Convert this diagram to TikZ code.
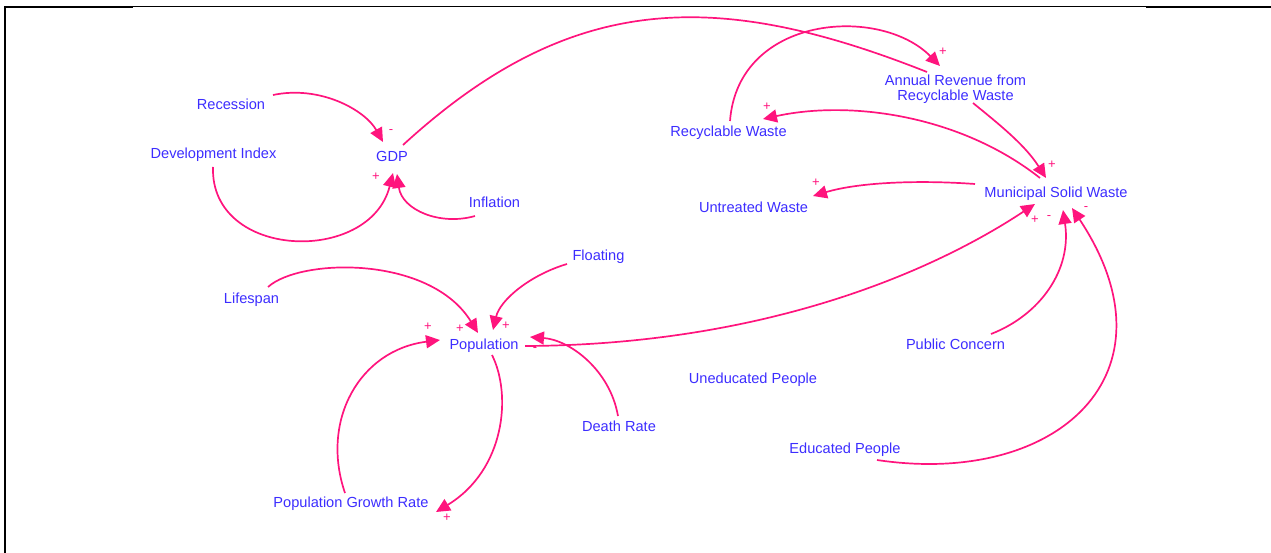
\documentclass[tikz,border=0pt]{standalone}
\usepackage{fontspec}
\setmainfont{Liberation Sans}
\usetikzlibrary{arrows.meta}
\definecolor{vlabel}{RGB}{60,45,255}
\definecolor{vlink}{RGB}{255,20,125}
\begin{document}
\begin{tikzpicture}[x=1pt,y=-1pt,
  var/.style={anchor=base, inner sep=0pt, text=vlabel, font=\fontsize{14.6}{15}\selectfont},
  link/.style={draw=vlink, line width=1.7pt, -{Triangle[length=14pt,width=13pt]}},
  plainlink/.style={draw=vlink, line width=1.7pt},
  pol/.style={text=vlink, font=\fontsize{13}{13}\selectfont, inner sep=0pt}]
\useasboundingbox (0,0) rectangle (1271,553);

% frame
\draw[line width=2.5pt] (5,553) -- (5,7) -- (133,7);
\draw[line width=1.3pt] (133,6.5) -- (1146,6.5);
\draw[line width=2.5pt] (1146,7) -- (1271,7);

% variables
\node[var] (rec)   at (231,110)   {Recession};
\node[var] (dev)   at (213.5,159) {Development Index};
\node[var] (gdp)   at (392,162)   {GDP};
\node[var] (inf)   at (494.5,208) {Inflation};
\node[var] (recy)  at (728.5,137) {Recyclable Waste};
\node[anchor=center, inner sep=0pt, text=vlabel, font=\fontsize{14.6}{15}\selectfont, align=center]
      (arev) at (955.5,89) {Annual Revenue from\\Recyclable Waste};
\node[var] (untr)  at (753.5,213) {Untreated Waste};
\node[var] (msw)   at (1056,198)  {Municipal Solid Waste};
\node[var] (pub)   at (955.5,349.5) {Public Concern};
\node[var] (life)  at (251.5,303) {Lifespan};
\node[var] (pop)   at (484,349)   {Population};
\node[var] (flo)   at (598.5,260.5) {Floating};
\node[var] (death) at (619,431)   {Death Rate};
\node[var] (pgr)   at (351,507)   {Population Growth Rate};
\node[var] (unedu) at (753,383)   {Uneducated People};
\node[var] (edu)   at (845,453)   {Educated People};

% causal links
\draw[link] ([shift={(42,-15)}]rec.base) .. controls (320,85) and (365,110) .. ([shift={(-9,-20)}]gdp.base);
\draw[link] ([shift={(-0.5,8)}]dev.base) .. controls (210,260) and (370,265) .. ([shift={(1,11)}]gdp.base);
\draw[link] ([shift={(-19.5,8)}]inf.base) .. controls (440,226) and (402,210) .. ([shift={(5,12)}]gdp.base);
\draw[plainlink] ([shift={(11,-17)}]gdp.base) .. controls (570,-8) and (715,-12) .. ([shift={(-28.5,-17)}]arev.center);
\draw[link] ([shift={(1.5,-16)}]recy.base) .. controls (738,15) and (880,5) .. ([shift={(-15.5,-23)}]arev.center);
\draw[link] ([shift={(-16,-20)}]msw.base) .. controls (960,115) and (850,100) .. ([shift={(34.5,-18)}]recy.base);
\draw[link] ([shift={(17.5,14)}]arev.center) .. controls (1000,125) and (1025,145) .. ([shift={(-10,-20)}]msw.base);
\draw[link] ([shift={(-81,-14)}]msw.base) .. controls (920,180) and (860,182) .. ([shift={(59.5,-17)}]untr.base);
\draw[link] ([shift={(41,-3)}]pop.base) .. controls (750,345) and (920,280) .. ([shift={(-21,6)}]msw.base);
\draw[link] ([shift={(35.5,-15.5)}]pub.base) .. controls (1040,315) and (1072,270) .. ([shift={(7,12)}]msw.base);
\draw[link] ([shift={(32,7)}]edu.base) .. controls (1057,487) and (1182,374) .. ([shift={(16,10)}]msw.base);
\draw[link] ([shift={(16.5,-16)}]life.base) .. controls (300,258) and (430,255) .. ([shift={(-6,-16)}]pop.base);
\draw[link] ([shift={(-31.5,3.5)}]flo.base) .. controls (530,275) and (500,300) .. ([shift={(9,-19)}]pop.base);
\draw[link] ([shift={(-1,-15)}]death.base) .. controls (610,370) and (570,340) .. ([shift={(46,-12)}]pop.base);
\draw[link] ([shift={(8,6)}]pop.base) .. controls (512,395) and (505,470) .. ([shift={(85,5)}]pgr.base);
\draw[link] ([shift={(-6,-14)}]pgr.base) .. controls (320,420) and (360,350) .. ([shift={(-44,-9)}]pop.base);

% link polarities
\node[pol] (p1)  at (391,132)  {-};
\node[pol] (p2)  at (376,177)  {+};
\node[pol] (p3)  at (943,52)   {+};
\node[pol] (p4)  at (767,107)  {+};
\node[pol] (p5)  at (1052,165) {+};
\node[pol] (p6)  at (816,183)  {+};
\node[pol] (p7)  at (1035,220) {+};
\node[pol] (p8)  at (1049,218) {-};
\node[pol] (p9)  at (1086,209) {-};
\node[pol] (p10) at (460,329)  {+};
\node[pol] (p11) at (506,326)  {+};
\node[pol] (p12) at (535,350)  {-};
\node[pol] (p13) at (447,518)  {+};
\node[pol] (p14) at (428,327)  {+};
\end{tikzpicture}
\end{document}
